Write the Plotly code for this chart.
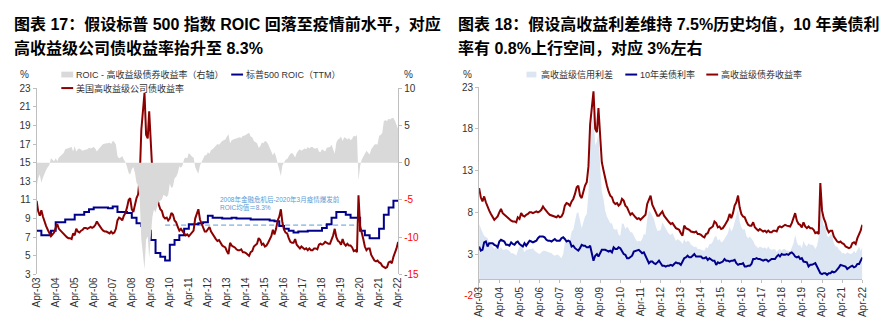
import pandas as pd
import plotly.graph_objects as go

W, H = 896, 323

# ---------------- data ----------------
months = pd.date_range("2003-04-01", "2022-04-01", freq="MS")
quarters = pd.date_range("2003-04-01", "2022-04-01", freq="QS-JAN")
tick_dates = pd.date_range("2003-04-01", "2022-04-01", freq="12MS")
tick_labels = ["Apr-%02d" % (y % 100) for y in range(2003, 2023)]

# US high-yield corporate bond yield (%), monthly
hy_yield = [
    10.9, 9.8, 9.3, 9.9, 9.2, 8.6, 8.2, 7.8, 7.5,
    7.1, 7.3, 7.5, 8.0, 8.4, 7.9, 7.7, 7.5, 7.3, 7.1, 7.0, 6.9,
    6.9, 6.8, 7.4, 7.2, 7.9, 7.6, 7.5, 7.7, 7.8, 8.0, 8.0, 7.9,
    8.0, 8.1, 8.0, 8.1, 8.3, 8.7, 8.4, 8.1, 7.9, 7.7, 7.6, 7.6,
    7.5, 7.4, 7.6, 7.4, 7.5, 7.9, 8.8, 9.1, 9.0, 8.8, 9.3, 9.6,
    10.2, 11.0, 11.2, 10.0, 9.7, 10.5, 11.2, 11.6, 13.5, 18.5, 20.5, 22.5,
    18.0, 17.6, 20.5, 17.0, 14.0, 13.0, 12.0, 11.2, 10.5, 10.0, 9.8, 9.2,
    9.0, 9.1, 8.8, 9.0, 9.6, 9.4, 8.8, 8.6, 8.1, 7.7, 7.9, 7.6,
    7.4, 7.2, 7.3, 7.1, 7.3, 7.6, 7.7, 9.0, 9.5, 10.0, 8.9, 8.4,
    8.0, 7.6, 7.6, 7.9, 8.1, 7.6, 7.3, 7.1, 6.8, 6.6, 6.7, 6.4,
    6.1, 6.0, 5.9, 5.5, 5.2, 6.4, 6.1, 6.0, 5.9, 5.7, 5.6, 5.6,
    5.7, 5.4, 5.4, 5.3, 5.1, 5.0, 5.4, 5.5, 6.0, 6.2, 6.3, 6.9,
    6.7, 6.2, 6.3, 6.0, 6.1, 6.4, 6.8, 7.1, 7.8, 7.3, 7.9, 8.8,
    9.2, 10.0, 8.6, 7.8, 7.5, 7.4, 6.9, 6.5, 6.4, 6.4, 6.8, 6.2,
    6.0, 5.8, 6.0, 5.8, 5.7, 5.8, 5.6, 5.8, 5.6, 5.6, 5.8, 5.8,
    5.7, 6.2, 6.3, 6.2, 6.3, 6.5, 6.4, 6.3, 6.3, 6.7, 7.2, 7.9,
    7.0, 6.6, 6.5, 6.2, 6.8, 6.3, 6.1, 6.3, 6.1, 6.1, 5.9, 5.5,
    5.6, 5.4, 11.5, 8.2, 7.3, 6.8, 6.0, 5.6, 5.8, 5.8, 5.1, 4.8,
    4.5, 4.4, 4.5, 4.3, 4.2, 3.9, 3.8, 3.7, 3.8, 4.3, 4.4, 4.2,
    4.9, 5.3, 5.8, 6.5,
]

# S&P 500 ROIC (TTM, %), quarterly
sp500_roic = [
    7.7, 7.2, 7.2,
    7.7, 8.6, 8.6, 8.9,
    8.9, 9.4, 9.4, 9.7,
    10.0, 10.2, 10.2, 10.2,
    10.1, 10.3, 9.7, 9.7,
    9.6, 9.1, 8.5, 8.2,
    7.7, 6.7, 5.3, 4.9,
    4.5, 6.2, 6.7, 7.2,
    7.9, 8.4, 8.4, 8.5,
    8.6, 9.3, 9.1, 9.1,
    9.0, 9.0, 9.1, 9.0,
    9.0, 9.0, 8.9, 8.9,
    8.9, 8.9, 8.8, 8.7,
    8.2, 7.9, 7.7, 7.5,
    7.6, 7.6, 7.7, 7.7,
    7.7, 8.0, 8.4, 9.1,
    9.7, 9.7, 9.4, 9.1,
    9.1, 7.7, 7.2, 6.9,
    6.9, 7.9, 9.4, 10.2,
    10.9, 11.0,
]

# ROIC - high-yield bond yield (right axis, %), monthly
roic_minus_hy = [
    -3.2, -2.1, -1.6, -2.7, -2.0, -1.4, -1.0, -0.6, -0.3,
    0.6, 0.4, 0.2, 0.6, 0.2, 0.7, 0.9, 1.1, 1.3, 1.8, 1.9, 2.0,
    2.0, 2.1, 1.5, 2.2, 1.5, 1.8, 1.9, 1.7, 1.6, 1.7, 1.7, 1.8,
    2.0, 1.9, 2.0, 2.1, 1.9, 1.5, 1.8, 2.1, 2.3, 2.5, 2.6, 2.6,
    2.6, 2.7, 2.5, 2.9, 2.8, 2.4, 0.9, 0.6, 0.7, 0.9, 0.4, 0.1,
    -0.6, -1.4, -1.6, -0.9, -0.6, -1.4, -2.7, -3.1, -5.0, -10.3, -12.3, -14.3,
    -10.3, -9.9, -12.8, -10.3, -7.3, -6.3, -6.7, -5.9, -5.2, -5.1, -4.9, -4.3,
    -4.5, -4.6, -4.3, -2.8, -3.4, -3.2, -2.1, -1.9, -1.4, -0.5, -0.7, -0.4,
    0.5, 0.7, 0.6, 1.3, 1.1, 0.8, 0.7, -0.6, -1.1, -1.5, -0.4, 0.1,
    0.6, 1.0, 1.0, 1.4, 1.2, 1.7, 1.8, 2.0, 2.3, 2.5, 2.4, 2.7,
    2.9, 3.0, 3.1, 3.5, 3.8, 2.6, 3.0, 3.1, 3.2, 3.3, 3.4, 3.4,
    3.3, 3.6, 3.6, 3.7, 3.9, 4.0, 3.5, 3.4, 2.9, 2.7, 2.6, 2.0,
    2.2, 2.7, 2.6, 2.9, 2.8, 2.5, 2.0, 1.7, 1.0, 1.4, 0.8, -0.1,
    -1.0, -1.8, -0.4, 0.1, 0.4, 0.5, 0.8, 1.2, 1.3, 1.1, 0.7, 1.3,
    1.6, 1.8, 1.6, 1.8, 1.9, 1.8, 2.1, 1.9, 2.1, 2.1, 1.9, 1.9,
    2.0, 1.5, 1.4, 1.8, 1.7, 1.5, 2.0, 2.1, 2.1, 2.4, 1.9, 1.2,
    2.7, 3.1, 3.2, 3.5, 2.9, 3.4, 3.3, 3.1, 3.3, 3.0, 3.2, 3.6,
    3.5, 3.7, -2.4, -0.5, 0.4, 0.9, 1.2, 1.6, 1.4, 1.1, 1.8, 2.1,
    2.4, 2.5, 2.4, 3.6, 3.7, 4.0, 5.6, 5.7, 5.6, 5.9, 5.8, 6.0,
    6.0, 5.6, 5.1, 4.5,
]

# High-yield credit spread (%), monthly
hy_spread = [
    6.6, 6.0, 5.6, 5.2, 5.0, 4.9, 4.4, 4.2, 3.9,
    3.6, 3.8, 3.9, 3.5, 3.8, 3.5, 3.5, 3.6, 3.5, 3.4, 3.1, 3.1,
    3.0, 2.8, 3.4, 3.9, 4.0, 3.7, 3.2, 3.5, 3.5, 3.6, 3.6, 3.7,
    3.4, 3.2, 3.1, 3.0, 3.2, 3.4, 3.4, 3.3, 3.3, 3.2, 3.1, 2.9,
    2.8, 2.9, 2.9, 2.7, 2.5, 3.0, 4.3, 4.7, 4.5, 4.6, 5.7, 5.9,
    7.0, 7.9, 8.0, 6.8, 6.1, 6.8, 7.5, 7.8, 10.3, 15.5, 18.5, 20.0,
    16.0, 16.5, 17.5, 13.5, 10.5, 9.6, 8.2, 7.5, 7.0, 6.7, 6.7, 6.0,
    5.9, 6.0, 5.3, 5.2, 6.7, 6.6, 6.0, 6.3, 6.0, 5.6, 5.6, 5.1,
    4.8, 4.5, 4.6, 4.5, 4.8, 5.4, 5.3, 7.2, 8.2, 8.0, 7.6, 7.2,
    6.4, 5.8, 5.8, 5.9, 6.8, 6.4, 6.0, 5.7, 5.4, 5.3, 5.5, 5.1,
    4.6, 4.8, 4.7, 4.5, 4.2, 4.8, 4.4, 4.6, 4.5, 4.1, 4.0, 3.8,
    3.9, 3.6, 3.6, 3.5, 3.5, 3.4, 3.8, 3.7, 4.2, 4.2, 4.5, 5.0,
    5.2, 4.6, 4.8, 4.4, 4.5, 4.8, 5.1, 5.5, 6.3, 5.7, 6.1, 6.9,
    7.4, 8.4, 6.9, 6.2, 5.9, 6.0, 5.2, 4.9, 5.1, 4.9, 4.6, 4.1,
    3.9, 3.7, 3.9, 3.8, 3.7, 3.8, 3.6, 3.9, 3.6, 3.5, 3.6, 3.6,
    3.2, 3.5, 3.6, 3.4, 3.6, 3.6, 3.4, 3.4, 3.3, 3.7, 4.3, 5.3,
    4.4, 4.0, 4.1, 3.7, 4.6, 4.1, 3.9, 4.3, 4.1, 4.1, 4.0, 3.6,
    4.0, 5.0, 10.5, 7.4, 6.4, 6.4, 5.2, 5.0, 5.4, 5.3, 4.3, 3.9,
    3.9, 3.5, 3.4, 3.1, 3.1, 3.0, 3.2, 3.1, 3.0, 3.1, 3.4, 3.1,
    3.6, 3.9, 3.4, 3.8,
]

# US 10-year Treasury yield (%), monthly
ust_10y = [
    3.9, 3.4, 3.5, 4.4, 4.5, 3.9, 4.3, 4.3, 4.3,
    4.1, 4.0, 3.8, 4.5, 4.7, 4.6, 4.5, 4.1, 4.1, 4.0, 4.4, 4.2,
    4.1, 4.4, 4.5, 4.2, 4.0, 3.9, 4.3, 4.0, 4.3, 4.6, 4.5, 4.4,
    4.5, 4.6, 4.9, 5.1, 5.1, 5.1, 5.0, 4.7, 4.6, 4.6, 4.5, 4.7,
    4.8, 4.6, 4.6, 4.6, 4.9, 5.0, 4.8, 4.5, 4.6, 4.5, 3.9, 4.0,
    3.7, 3.5, 3.4, 3.7, 4.1, 4.0, 4.0, 3.8, 3.8, 4.0, 2.9, 2.2,
    2.8, 3.0, 2.7, 3.1, 3.5, 3.5, 3.5, 3.4, 3.3, 3.4, 3.2, 3.8,
    3.6, 3.6, 3.8, 3.7, 3.3, 3.0, 2.9, 2.5, 2.5, 2.6, 2.8, 3.3,
    3.4, 3.4, 3.5, 3.3, 3.1, 3.2, 2.8, 2.2, 1.9, 2.1, 2.1, 1.9,
    1.8, 2.0, 2.2, 1.9, 1.6, 1.6, 1.5, 1.6, 1.6, 1.7, 1.6, 1.8,
    2.0, 1.9, 1.9, 1.7, 2.1, 2.5, 2.6, 2.8, 2.6, 2.6, 2.8, 3.0,
    2.7, 2.7, 2.7, 2.7, 2.5, 2.5, 2.6, 2.3, 2.5, 2.3, 2.2, 2.2,
    1.7, 2.0, 1.9, 2.0, 2.1, 2.4, 2.2, 2.2, 2.1, 2.2, 2.2, 2.3,
    1.9, 1.7, 1.8, 1.8, 1.9, 1.5, 1.5, 1.6, 1.6, 1.8, 2.4, 2.4,
    2.5, 2.4, 2.4, 2.3, 2.2, 2.3, 2.3, 2.1, 2.3, 2.4, 2.4, 2.4,
    2.7, 2.9, 2.7, 3.0, 2.9, 2.9, 3.0, 2.9, 3.1, 3.2, 3.0, 2.7,
    2.6, 2.7, 2.4, 2.5, 2.1, 2.0, 2.0, 1.5, 1.7, 1.7, 1.8, 1.9,
    1.5, 1.1, 0.7, 0.6, 0.7, 0.7, 0.5, 0.7, 0.7, 0.9, 0.8, 0.9,
    1.1, 1.4, 1.7, 1.6, 1.6, 1.5, 1.2, 1.3, 1.5, 1.6, 1.4, 1.5,
    1.8, 1.8, 2.3, 2.6,
]

# ROIC average between the 2008 crisis and the March 2020 outbreak
avg_roic = 8.3
avg_period = ["2010-01-01", "2020-03-01"]

left_yticks = list(range(3, 24, 2))
right_yticks = [-15, -10, -5, 0, 5, 10]
r_yticks = [-2, 3, 8, 13, 18, 23]

# ---------------- styling helpers ----------------
RED = "#8B0000"
NAVY = "#00008B"
GRAY_FILL = "#D9D9D9"
BLUE_FILL = "#DCE6F2"
AXIS = "#BFBFBF"
ANN = "#5B9BD5"
FONT = "Liberation Sans, Arial, 'Noto Sans CJK SC', sans-serif"


def px(x):
    return x / W


def py(y):
    return 1 - y / H


def tick_text(vals):
    out = []
    for v in vals:
        if v < 0:
            out.append('<span style="color:#FF0000">%d</span>' % v)
        else:
            out.append(str(v))
    return out


fig = go.Figure()

# ---- left chart ----
fig.add_trace(go.Scatter(x=months, y=roic_minus_hy, yaxis="y2", xaxis="x",
                         mode="lines", line=dict(width=0, color=GRAY_FILL),
                         fill="tozeroy", fillcolor=GRAY_FILL,
                         name="ROIC - 高收益级债券收益率（右轴）"))
fig.add_trace(go.Scatter(x=avg_period, y=[avg_roic, avg_roic], xaxis="x", yaxis="y",
                         mode="lines", line=dict(width=1, color=ANN, dash="5px,3px"),
                         name="ROIC均值"))
fig.add_trace(go.Scatter(x=quarters, y=sp500_roic, xaxis="x", yaxis="y",
                         mode="lines", line=dict(width=2, color=NAVY, shape="hv"),
                         name="标普500 ROIC（TTM）"))
fig.add_trace(go.Scatter(x=months, y=hy_yield, xaxis="x", yaxis="y",
                         mode="lines", line=dict(width=2, color=RED),
                         name="美国高收益级公司债收益率"))

# ---- right chart ----
fig.add_trace(go.Scatter(x=months, y=hy_spread, xaxis="x2", yaxis="y3",
                         mode="lines", line=dict(width=0, color=BLUE_FILL),
                         fill="tozeroy", fillcolor=BLUE_FILL,
                         name="高收益级信用利差"))
fig.add_trace(go.Scatter(x=months, y=ust_10y, xaxis="x2", yaxis="y3",
                         mode="lines", line=dict(width=2, color=NAVY),
                         name="10年美债利率"))
fig.add_trace(go.Scatter(x=months, y=hy_yield, xaxis="x2", yaxis="y3",
                         mode="lines", line=dict(width=2, color=RED),
                         name="高收益级债券收益率"))

L_dom_y = [py(279), py(86)]
R_dom_y = [py(301), py(85)]
r_xpos = R_dom_y[0] + (0 - (-2)) / 25 * (R_dom_y[1] - R_dom_y[0])

common_x = dict(type="date", range=["2003-04-01", "2022-04-01"],
                tickvals=tick_dates, ticktext=tick_labels, tickangle=-90,
                tickfont=dict(size=10, color="#333333"), showgrid=False,
                zeroline=False)

fig.update_layout(
    width=W, height=H, margin=dict(l=0, r=0, t=0, b=0),
    paper_bgcolor="white", plot_bgcolor="white",
    font=dict(family=FONT, color="#333333"),
    showlegend=False, hovermode=False,
    xaxis=dict(domain=[px(31), px(397)], anchor="y", showline=False, ticks="",
               **common_x),
    yaxis=dict(domain=L_dom_y, anchor="x", range=[3, 23], tickvals=left_yticks,
               showline=True, linecolor=AXIS, linewidth=1, ticks="outside",
               ticklen=3, tickcolor=AXIS, showgrid=False, zeroline=False,
               tickfont=dict(size=10, color="#333333")),
    yaxis2=dict(overlaying="y", side="right", anchor="x", range=[-15, 10],
                tickvals=right_yticks, ticktext=tick_text(right_yticks),
                showline=True, linecolor=AXIS, linewidth=1, ticks="outside",
                ticklen=3, tickcolor=AXIS, showgrid=False, zeroline=False,
                tickfont=dict(size=10, color="#333333")),
    xaxis2=dict(domain=[px(479), px(867)], anchor="free", position=r_xpos,
                showline=True, linecolor=AXIS, linewidth=1, ticks="outside",
                ticklen=3, tickcolor=AXIS, **common_x),
    yaxis3=dict(domain=R_dom_y, anchor="x2", range=[-2, 23], tickvals=r_yticks,
                ticktext=tick_text(r_yticks), showline=True, linecolor=AXIS,
                linewidth=1, ticks="outside", ticklen=3, tickcolor=AXIS,
                showgrid=False, zeroline=False,
                tickfont=dict(size=10, color="#333333")),
)

ann = []


def text(x, y, s, size=9, color="#333333", xanchor="left", bold=False):
    ann.append(dict(x=px(x), y=py(y), xref="paper", yref="paper", text=s,
                    showarrow=False, xanchor=xanchor, yanchor="middle",
                    font=dict(size=size, color=color, family=FONT)))


# titles
text(6, 20, "<b>图表 17：假设标普 500 指数 ROIC 回落至疫情前水平，对应</b>", size=16, color="#000000")
text(6, 45, "<b>高收益级公司债收益率抬升至 8.3%</b>", size=16, color="#000000")
text(456, 20, "<b>图表 18：假设高收益利差维持 7.5%历史均值，10 年美债利</b>", size=16, color="#000000")
text(456, 45, "<b>率有 0.8%上行空间，对应 3%左右</b>", size=16, color="#000000")

# units
text(19, 72, "%", size=10, xanchor="center")
text(407, 72, "%", size=10, xanchor="center")
text(467, 72, "%", size=10, xanchor="center")

# left legend
text(69, 72, "ROIC - 高收益级债券收益率（右轴）")
text(241, 72, "标普500 ROIC（TTM）")
text(69, 86, "美国高收益级公司债收益率")
# right legend
text(540, 72, "高收益级信用利差")
text(640, 72, "10年美债利率")
text(722, 72, "高收益级债券收益率")

# in-chart note
ann.append(dict(x=px(215), y=py(206), xref="paper", yref="paper",
                text="2008年金融危机后-2020年3月疫情爆发前<br>ROIC均值＝8.3%",
                showarrow=False, xanchor="left", yanchor="middle", align="left",
                font=dict(size=6.5, color=ANN, family=FONT)))

fig.update_layout(annotations=ann)

shapes = [
    dict(type="rect", xref="paper", yref="paper", x0=px(56), x1=px(68),
         y0=py(75), y1=py(69), fillcolor=GRAY_FILL, line=dict(width=0)),
    dict(type="line", xref="paper", yref="paper", x0=px(228), x1=px(240),
         y0=py(72), y1=py(72), line=dict(color=NAVY, width=2)),
    dict(type="line", xref="paper", yref="paper", x0=px(56), x1=px(68),
         y0=py(86), y1=py(86), line=dict(color=RED, width=2)),
    dict(type="rect", xref="paper", yref="paper", x0=px(527), x1=px(537),
         y0=py(75), y1=py(69), fillcolor=BLUE_FILL, line=dict(width=0)),
    dict(type="line", xref="paper", yref="paper", x0=px(627), x1=px(639),
         y0=py(72), y1=py(72), line=dict(color=NAVY, width=2)),
    dict(type="line", xref="paper", yref="paper", x0=px(709), x1=px(721),
         y0=py(72), y1=py(72), line=dict(color=RED, width=2)),
]
fig.update_layout(shapes=shapes)

fig.write_html("out.html", config={"displayModeBar": False},
               post_script="document.body.style.margin='0';")
